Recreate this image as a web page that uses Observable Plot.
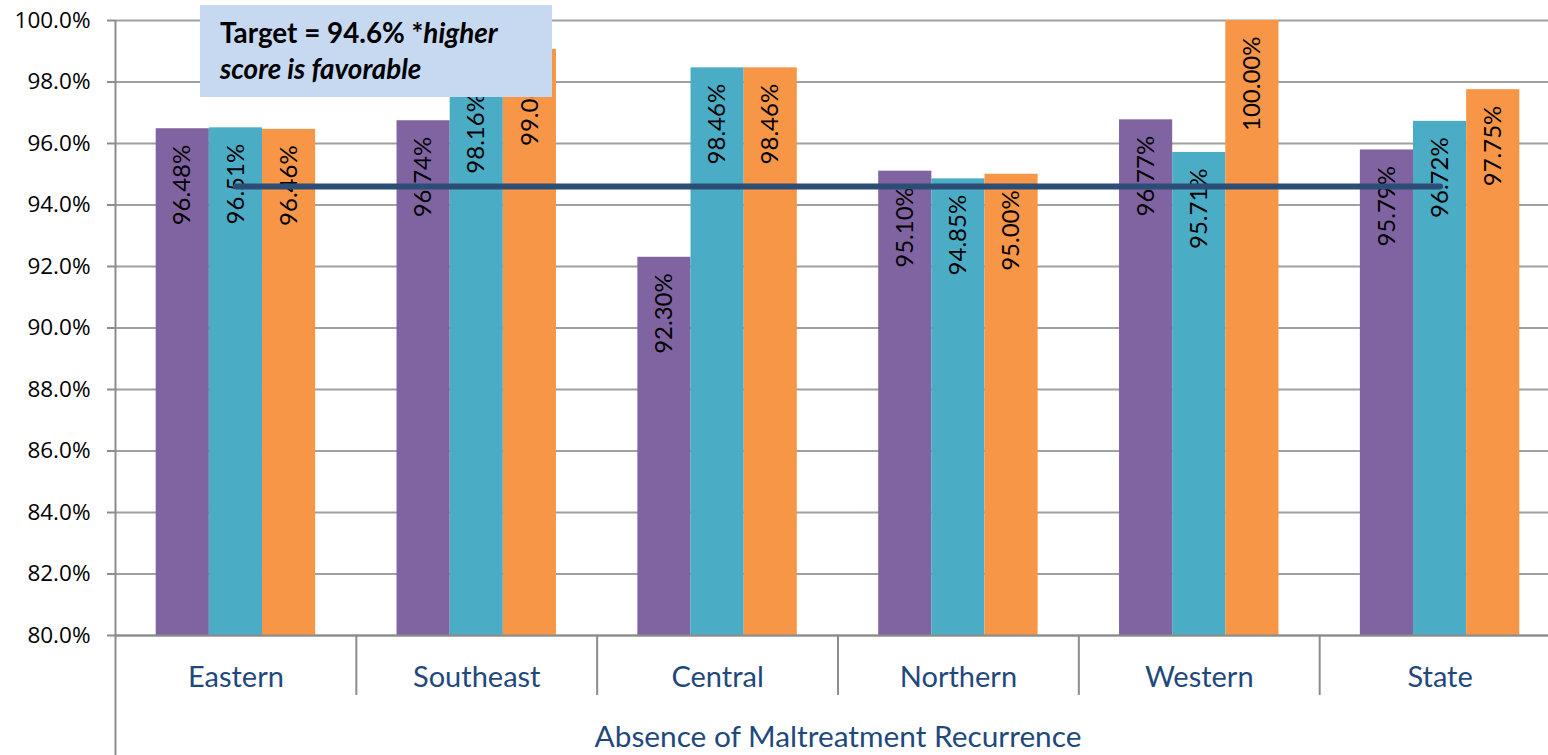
<!DOCTYPE html>
<html>
<head>
<meta charset="utf-8">
<script src="https://cdn.jsdelivr.net/npm/d3@7"></script>
<script src="https://cdn.jsdelivr.net/npm/@observablehq/plot@0.6"></script>
<style>
  html, body { margin: 0; padding: 0; background: #fff; overflow: hidden; }
  #wrap { position: relative; width: 1548px; height: 755px; overflow: hidden; }
  #note {
    position: absolute; left: 200px; top: 5px; width: 352px; height: 92px;
    background: #C6D9F1; box-sizing: border-box; padding: 9.6px 0 0 20px;
    font-family: Lato, "Open Sans", sans-serif; font-weight: bold; font-size: 27.8px;
    line-height: 36px; color: #000; white-space: nowrap;
  }
</style>
</head>
<body>
<div id="wrap"></div>
<script>
const regions = ["Eastern", "Southeast", "Central", "Northern", "Western", "State"];
const series1 = [96.48, 96.74, 92.30, 95.10, 96.77, 95.79];
const series2 = [96.51, 98.16, 98.46, 94.85, 95.71, 96.72];
const series3 = [96.46, 99.06, 98.46, 95.00, 100.00, 97.75];
const seriesNames = ["Series 1", "Series 2", "Series 3"];
const seriesColors = ["#8064A2", "#4BACC6", "#F79646"];
const yTicks = [80, 82, 84, 86, 88, 90, 92, 94, 96, 98, 100];
const target = 94.6;
const axisTitle = "Absence of Maltreatment Recurrence";

const allSeries = [series1, series2, series3];
const tables = allSeries.map((vals, j) => regions.map((r, i) => ({region: r, series: seriesNames[j], value: vals[i]})));

const W = 1560, H = 755, mL = 115, mR = 0, mT = 20, mB = 120;
const band = (W - mL - mR) / regions.length;
const outer = 40.7;
const bw = (band - 2 * outer) / 3;
const font = "Lato, 'Open Sans', sans-serif";
const axisBlue = "#1F497D";
const lineGray = "#8C8C8C";

const marks = [
  Plot.gridY(yTicks, {stroke: "#A0A0A0", strokeOpacity: 1, strokeWidth: 2}),
  Plot.axisY(yTicks, {tickFormat: d => d.toFixed(1) + "%", tickSize: 8, tickPadding: 17, fontSize: 22.5,
    fontFamily: "'Open Sans', sans-serif", fill: "#000", stroke: lineGray, strokeWidth: 2, label: null})
];
tables.forEach((t, j) => {
  marks.push(Plot.barY(t, {x: "region", y1: 80, y2: "value", fill: seriesColors[j],
    insetLeft: outer + j * bw, insetRight: outer + (2 - j) * bw}));
});
tables.forEach((t, j) => {
  marks.push(Plot.text(t, {x: "region", y: "value", text: d => d.value.toFixed(2) + "%",
    rotate: -90, textAnchor: "end", dx: (j - 1) * bw, dy: 16, fontSize: 24, fill: "#000"}));
});
marks.push(
  Plot.lineY([regions[0], regions[regions.length - 1]], {x: d => d, y: () => target, stroke: "#2C4D75", strokeWidth: 6}),
  Plot.ruleY([80], {stroke: lineGray, strokeWidth: 2}),
  Plot.ruleX(regions.slice(1), {x: d => d, y1: 80, y2: 78.05, dx: -band / 2, stroke: lineGray, strokeWidth: 2}),
  Plot.ruleX([regions[0]], {x: d => d, y1: 100, y2: 76.1, dx: -band / 2, stroke: lineGray, strokeWidth: 2}),
  Plot.text(regions, {x: d => d, frameAnchor: "bottom", lineAnchor: "middle", dy: 42.7, fontSize: 29, fill: axisBlue}),
  Plot.text([axisTitle], {frameAnchor: "bottom", lineAnchor: "middle", dy: 102.4, fontSize: 29.8, fill: axisBlue})
);

const chart = Plot.plot({
  width: W, height: H,
  marginLeft: mL, marginRight: mR, marginTop: mT, marginBottom: mB,
  style: {fontFamily: font, maxWidth: "none", background: "#fff", overflow: "visible"},
  x: {domain: regions, padding: 0, round: false, axis: null},
  y: {domain: [80, 100]},
  marks
});
const wrap = document.getElementById("wrap");
wrap.appendChild(chart);
const note = document.createElement("div");
note.id = "note";
note.innerHTML = "Target = 94.6% *<i>higher<br>score is favorable</i>";
wrap.appendChild(note);
</script>
</body>
</html>
